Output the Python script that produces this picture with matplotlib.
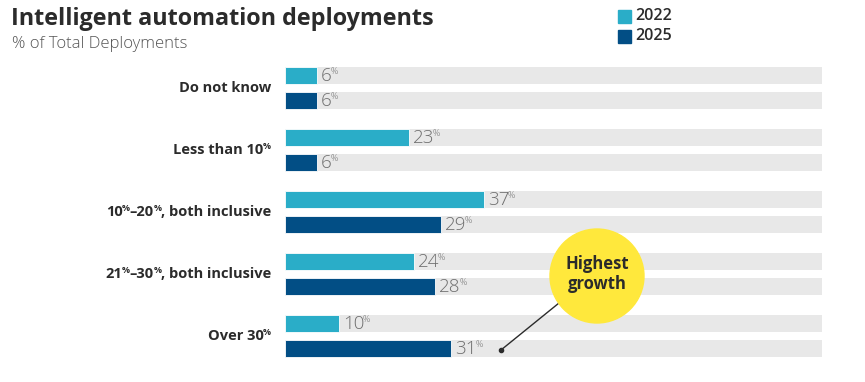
import matplotlib
matplotlib.use("Agg")
import matplotlib.pyplot as plt
from matplotlib.patches import Ellipse

categories = ["Do not know", "Less than 10", "10–20, both inclusive", "21–30, both inclusive", "Over 30"]
cat_parts = [
    [("Do not know", False)],
    [("Less than 10", False), ("%", True)],
    [("10", False), ("%", True), ("–20", False), ("%", True), (", both inclusive", False)],
    [("21", False), ("%", True), ("–30", False), ("%", True), (", both inclusive", False)],
    [("Over 30", False), ("%", True)],
]
series_names = ["2022", "2025"]
values_2022 = [6, 23, 37, 24, 10]
values_2025 = [6, 6, 29, 28, 31]

C22 = "#2aadc8"
C25 = "#024e85"
BG = "#e8e8e8"
DARK = "#2b2b2b"
GREY = "#6e6e6e"
FONT = "Open Sans"

W, H = 865, 382
fig = plt.figure(figsize=(W / 100, H / 100), dpi=100)

x0, x1 = 285, 822
ytop, ybot = 62, 362
ax = fig.add_axes([x0 / W, (H - ybot) / H, (x1 - x0) / W, (ybot - ytop) / H])
ax.set_xlim(0, 100)
ax.set_ylim(ybot, ytop)
ax.axis("off")

bh = 17.5
y22 = [75.5 + 62 * i for i in range(len(categories))]
y25 = [100.5 + 62 * i for i in range(len(categories))]

ax.barh(y22, [100] * len(y22), height=bh, color=BG, zorder=1)
ax.barh(y25, [100] * len(y25), height=bh, color=BG, zorder=1)
ax.barh(y22, values_2022, height=bh, color=C22, zorder=2, edgecolor="white", linewidth=0.6)
ax.barh(y25, values_2025, height=bh, color=C25, zorder=2, edgecolor="white", linewidth=0.6)

fig.canvas.draw()
renderer = fig.canvas.get_renderer()

def value_label(xv, yv, v):
    xd, yd = ax.transData.transform((xv, yv))
    t = fig.text(0, 0, f"{v}", fontsize=13.5, fontweight="light", color=GREY, family=FONT,
                 va="center", ha="left")
    t.set_position(((xd + 4) / W, (yd - 0.5) / H))
    bb = t.get_window_extent(renderer)
    fig.text((bb.x1 - 1.5) / W, (yd + 4) / H, "%", fontsize=6.5, fontweight="light",
             color=GREY, family=FONT, va="center", ha="left")

for i in range(len(categories)):
    value_label(values_2022[i], y22[i], values_2022[i])
    value_label(values_2025[i], y25[i], values_2025[i])

for i, parts in enumerate(cat_parts):
    yc = (y22[i] + y25[i]) / 2
    _, yd = ax.transData.transform((0, yc))
    xr = 271
    for txt, sup in reversed(parts):
        if sup:
            t = fig.text(xr / W, (yd + 3) / H, txt, fontsize=6.5, fontweight="bold", color=DARK,
                         family=FONT, ha="right", va="center")
        else:
            t = fig.text(xr / W, yd / H, txt, fontsize=10.5, fontweight="bold", color=DARK,
                         family=FONT, ha="right", va="center")
        bb = t.get_window_extent(renderer)
        xr = bb.x0 + 0.5

fig.text(11 / W, 1 - 19 / H, "Intelligent automation deployments", fontsize=16.8,
         fontweight="bold", color=DARK, family=FONT, va="center", ha="left")
fig.text(12 / W, 1 - 44 / H, "% of Total Deployments", fontsize=12, fontweight="light",
         color="#555555", family=FONT, va="center", ha="left")

for k, (name, col) in enumerate(zip(series_names, [C22, C25])):
    yc = 16.5 + 20 * k
    fig.patches.append(plt.Rectangle((618 / W, 1 - (yc + 6.5) / H), 13 / W, 13 / H,
                                     transform=fig.transFigure, color=col, figure=fig))
    fig.text(635 / W, 1 - yc / H, name, fontsize=11.5, fontweight="semibold", color=DARK,
             family=FONT, va="center", ha="left")

cx, cy, r = 597, 276, 47
ell = Ellipse((cx / W, 1 - cy / H), 2 * r / W, 2 * r / H, transform=fig.transFigure,
              color="#ffe83c", zorder=5)
fig.patches.append(ell)
fig.text(cx / W, 1 - (cy - 2) / H, "Highest\ngrowth", fontsize=12, fontweight="bold",
         color=DARK, family=FONT, ha="center", va="center", linespacing=1.15, zorder=6)
fig.lines.append(plt.Line2D([501 / W, 559 / W], [1 - 350 / H, 1 - 303 / H],
                            transform=fig.transFigure, color=DARK, linewidth=1, zorder=4))
fig.lines.append(plt.Line2D([501 / W], [1 - 350 / H], transform=fig.transFigure, marker="o",
                            markersize=3, color=DARK, zorder=4))

fig.savefig("out.png", dpi=100, facecolor="white")
